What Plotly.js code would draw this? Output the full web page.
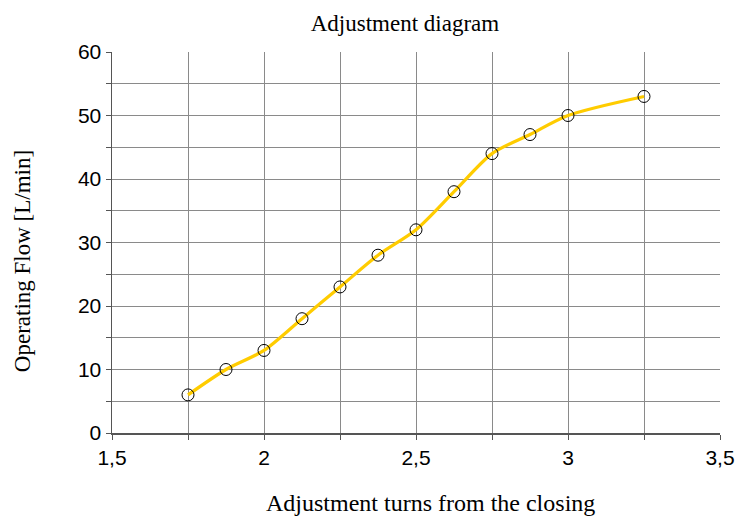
<!DOCTYPE html>
<html><head><meta charset="utf-8">
<script src="https://cdn.plot.ly/plotly-3.0.1.min.js"></script>
<style>html,body{margin:0;padding:0;background:#fff}#chart{width:739px;height:517px}</style>
</head><body><div id="chart"></div>
<script>
const turns = [1.75, 1.875, 2, 2.125, 2.25, 2.375, 2.5, 2.625, 2.75, 2.875, 3, 3.25];
const flow = [6, 10, 13, 18, 23, 28, 32, 38, 44, 47, 50, 53];
const chartTitle = 'Adjustment diagram';
const xTitle = 'Adjustment turns from the closing';
const yTitle = 'Operating Flow [L/min]';

const data = [
  {x: turns, y: flow, type: 'scatter', mode: 'lines',
   line: {color: '#FFCC00', width: 3.2, shape: 'spline', smoothing: 0.8}, hoverinfo: 'skip'},
  {x: turns, y: flow, type: 'scatter', mode: 'markers',
   marker: {symbol: 'circle-open', size: 12, color: '#000', line: {width: 1, color: '#000'}}}
];
const gridc = '#8a8a8a';
const serif = {family: 'Liberation Serif', color: '#000'};
const layout = {
  width: 739, height: 517, showlegend: false,
  separators: ',.',
  paper_bgcolor: '#fff', plot_bgcolor: '#fff',
  margin: {l: 112, r: 19, t: 52, b: 84},
  title: {text: chartTitle, font: Object.assign({size: 23}, serif), x: 0.548, xanchor: 'center', y: 0.955, yanchor: 'middle'},
  xaxis: {
    range: [1.5, 3.5], dtick: 0.5, tick0: 1.5, showgrid: true, gridcolor: gridc, gridwidth: 1,
    showline: true, linecolor: '#555', linewidth: 1.5, zeroline: false,
    ticks: 'outside', ticklen: 5, tickcolor: '#555',
    tickfont: {family: 'Liberation Sans', size: 21, color: '#000'},
    minor: {dtick: 0.25, tick0: 1.5, showgrid: true, gridcolor: gridc, gridwidth: 1, ticks: 'outside', ticklen: 5, tickcolor: '#555'}
  },
  yaxis: {
    range: [0, 60], dtick: 10, showgrid: true, gridcolor: gridc, gridwidth: 1,
    showline: true, linecolor: '#555', linewidth: 1.5, zeroline: false,
    ticks: 'outside', ticklen: 5, tickcolor: '#555',
    tickfont: {family: 'Liberation Sans', size: 21, color: '#000'},
    minor: {dtick: 5, showgrid: true, gridcolor: gridc, gridwidth: 1, ticks: 'outside', ticklen: 5, tickcolor: '#555'}
  },
  annotations: [
    {text: xTitle, xref: 'paper', yref: 'paper', x: 0.524, y: -0.184, xanchor: 'center', yanchor: 'middle',
     showarrow: false, font: Object.assign({size: 24}, serif)},
    {text: yTitle, xref: 'paper', yref: 'paper', x: -0.148, y: 0.451, xanchor: 'center', yanchor: 'middle',
     textangle: -90, showarrow: false, font: Object.assign({size: 23}, serif)}
  ]
};
Plotly.newPlot('chart', data, layout, {displayModeBar: false, staticPlot: true});
</script></body></html>
